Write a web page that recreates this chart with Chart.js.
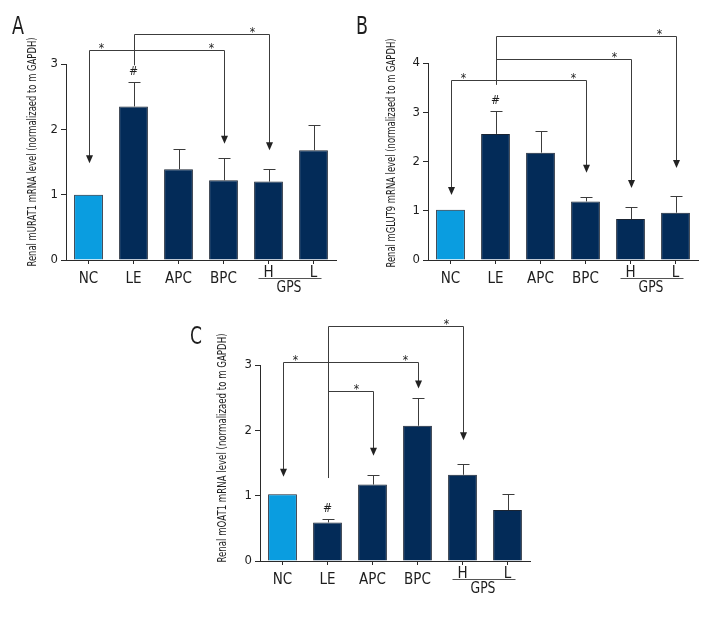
<!DOCTYPE html>
<html><head><meta charset="utf-8">
<script src="https://cdn.jsdelivr.net/npm/chart.js@4"></script>
<style>
html,body{margin:0;padding:0;background:#fff;}
#wrap{position:relative;width:720px;height:624px;background:#fff;overflow:hidden;}
canvas{position:absolute;}
</style></head><body>
<div id="wrap">
<canvas id="cA" width="360" height="300" style="left:0;top:0;width:360px;height:300px"></canvas>
<canvas id="cB" width="380" height="300" style="left:340px;top:0;width:380px;height:300px"></canvas>
<canvas id="cC" width="360" height="324" style="left:180px;top:300px;width:360px;height:324px"></canvas>
</div>
<script>
// ---- data ----
const categories = ['NC', 'LE', 'APC', 'BPC', 'H', 'L'];
const groupLabel = 'GPS';
const groupMembers = [4, 5];
const hashMarks = [1];

const uratMean = [1.00, 2.35, 1.39, 1.22, 1.20, 1.68];
const uratErr  = [0, 0.37, 0.31, 0.34, 0.19, 0.38];
const uratTicks = [0, 1, 2, 3];
const uratSig = [
  {from: 0, to: 3, level: 3.21, fromTip: 1.48, toTip: 1.78},
  {from: 1, to: 4, level: 3.46, fromStart: 2.98, toTip: 1.68}
];

const glutMean = [1.02, 2.56, 2.18, 1.19, 0.83, 0.96];
const glutErr  = [0, 0.47, 0.44, 0.09, 0.25, 0.33];
const glutTicks = [0, 1, 2, 3, 4];
const glutSig = [
  {from: 0, to: 3, level: 3.66, fromTip: 1.32, toTip: 1.77},
  {from: 1, to: 4, level: 4.09, fromStart: 3.56, toTip: 1.46},
  {from: 1, to: 5, level: 4.54, fromStart: 3.56, toTip: 1.87}
];

const oatMean = [1.02, 0.59, 1.17, 2.07, 1.32, 0.78];
const oatErr  = [0, 0.06, 0.14, 0.42, 0.16, 0.25];
const oatTicks = [0, 1, 2, 3];
const oatSig = [
  {from: 0, to: 3, level: 3.04, fromTip: 1.29, toTip: 2.64},
  {from: 1, to: 4, level: 3.60, fromStart: 1.27, toTip: 1.85},
  {from: 1, to: 2, level: 2.60, fromStart: 1.27, toTip: 1.61}
];

// ---- style ----
const FONT = '"Liberation Sans Narrow","DejaVu Sans Condensed","Open Sans",sans-serif';
const LIGHT = '#0a9de0';
const DARK = '#032b58';
const AX = '#2a2a2a';
const LINE = '#3c3c3c';
const TXT = '#1e1e1e';

function makePanel(id, letter, title, means, errs, ticksArr, sig, lay) {
  const yMax = ticksArr[ticksArr.length - 1];
  const anno = {
    id: 'anno' + letter,
    afterDatasetsDraw(chart) {
      const ctx = chart.ctx;
      const xs = chart.scales.x, ys = chart.scales.y;
      const ca = chart.chartArea;
      ctx.save();
      ctx.strokeStyle = LINE;
      ctx.fillStyle = TXT;
      ctx.lineWidth = 1;
      // error bars
      means.forEach((m, i) => {
        if (!errs[i]) return;
        const xc = Math.round(xs.getPixelForValue(i)) + 0.5;
        const y1 = ys.getPixelForValue(m);
        const y2 = Math.round(ys.getPixelForValue(m + errs[i])) + 0.5;
        ctx.beginPath();
        ctx.moveTo(xc, y1); ctx.lineTo(xc, y2);
        ctx.moveTo(xc - 6, y2); ctx.lineTo(xc + 6, y2);
        ctx.stroke();
      });
      // hash marks
      ctx.font = '12px ' + FONT;
      ctx.textAlign = 'center';
      ctx.textBaseline = 'middle';
      hashMarks.forEach(i => {
        const xc = xs.getPixelForValue(i);
        const yt = ys.getPixelForValue(means[i] + errs[i]);
        ctx.fillText('#', xc, yt - 10);
      });
      // significance brackets
      const arrow = (xc, tip) => {
        ctx.beginPath();
        ctx.moveTo(xc - 3.5, tip - 8);
        ctx.lineTo(xc + 3.5, tip - 8);
        ctx.lineTo(xc, tip);
        ctx.closePath();
        ctx.fill();
      };
      const star = (xc, ly) => {
        ctx.font = '12px ' + FONT;
        ctx.textAlign = 'center';
        ctx.textBaseline = 'alphabetic';
        ctx.fillText('*', xc, ly + 1.5);
      };
      sig.forEach(s => {
        const xa = Math.round(xs.getPixelForValue(s.from)) + 0.5;
        const xb = Math.round(xs.getPixelForValue(s.to)) + 0.5;
        const ly = Math.round(ys.getPixelForValue(s.level)) + 0.5;
        const tb = ys.getPixelForValue(s.toTip);
        ctx.beginPath();
        if (s.fromTip !== undefined) {
          const ta = ys.getPixelForValue(s.fromTip);
          ctx.moveTo(xa, ta - 7); ctx.lineTo(xa, ly);
        } else {
          ctx.moveTo(xa, ys.getPixelForValue(s.fromStart)); ctx.lineTo(xa, ly);
        }
        ctx.lineTo(xb, ly); ctx.lineTo(xb, tb - 7);
        ctx.stroke();
        ctx.fillStyle = '#222';
        arrow(xb, tb);
        if (s.fromTip !== undefined) {
          arrow(xa, ys.getPixelForValue(s.fromTip));
          star(xa + 12, ly);
          star(xb - 13, ly);
        } else {
          star(xb - 17, ly);
        }
        ctx.fillStyle = TXT;
      });
      // group bracket (GPS)
      const gx1 = xs.getPixelForValue(groupMembers[0]) - 10;
      const gx2 = xs.getPixelForValue(groupMembers[groupMembers.length - 1]) + 8;
      const gy = Math.round(ca.bottom + 18) + 0.5;
      ctx.strokeStyle = '#555';
      ctx.beginPath(); ctx.moveTo(gx1, gy); ctx.lineTo(gx2, gy); ctx.stroke();
      ctx.font = '15px ' + FONT;
      ctx.textAlign = 'center';
      ctx.textBaseline = 'middle';
      ctx.fillText(groupLabel, (gx1 + gx2) / 2 - 1, ca.bottom + 28.5, 25);
      // y-axis title
      ctx.save();
      ctx.translate(ca.left - lay.titleDx, ca.bottom - lay.titleDy);
      ctx.rotate(-Math.PI / 2);
      ctx.font = '12.5px ' + FONT;
      ctx.textAlign = 'center';
      ctx.textBaseline = 'middle';
      ctx.fillText(title, 0, 0, 229);
      ctx.restore();
      // panel letter
      ctx.font = '25px ' + FONT;
      ctx.textAlign = 'center';
      ctx.textBaseline = 'middle';
      ctx.fillText(letter, lay.lx, lay.ly, 12);
      ctx.restore();
    }
  };
  return new Chart(document.getElementById(id), {
    type: 'bar',
    data: {
      labels: categories,
      datasets: [{
        data: means,
        backgroundColor: categories.map((c, i) => i === 0 ? LIGHT : DARK),
        borderColor: '#1a2433',
        borderWidth: 1,
        barPercentage: 0.64,
        categoryPercentage: 1
      }]
    },
    options: {
      responsive: false,
      animation: false,
      events: [],
      layout: {padding: {left: 0, top: lay.top, right: lay.right, bottom: lay.bottom}},
      plugins: {legend: {display: false}, tooltip: {enabled: false}, title: {display: false}},
      scales: {
        x: {
          grid: {display: true, drawOnChartArea: false, drawTicks: true, tickLength: 4, color: AX, offset: false},
          border: {display: true, color: AX, width: 1},
          ticks: {
            color: TXT, padding: 6, maxRotation: 0, autoSkip: false,
            font: (c) => ({family: FONT, size: 15, lineHeight: groupMembers.includes(c.index) ? 0.4 : 1.15})
          },
          afterFit: (s) => { s.height = 40; }
        },
        y: {
          min: 0, max: yMax,
          grid: {display: true, drawOnChartArea: false, drawTicks: true, tickLength: 5, color: AX},
          border: {display: true, color: AX, width: 1},
          ticks: {color: TXT, padding: 3, stepSize: 1, font: {family: FONT, size: 13}},
          afterBuildTicks: (s) => { s.ticks = ticksArr.map(v => ({value: v})); },
          afterFit: (s) => { s.width = lay.left; }
        }
      }
    },
    plugins: [anno]
  });
}

makePanel('cA', 'A', 'Renal mURAT1 mRNA level (normalizaed to m GAPDH)', uratMean, uratErr, uratTicks, uratSig,
  {left: 66, top: 64, right: 24, bottom: 0, titleDx: 33, titleDy: 108, lx: 18, ly: 27});
makePanel('cB', 'B', 'Renal mGLUT9 mRNA level (normalizaed to m GAPDH)', glutMean, glutErr, glutTicks, glutSig,
  {left: 88, top: 63, right: 22, bottom: 0, titleDx: 36, titleDy: 107, lx: 22, ly: 27});
makePanel('cC', 'C', 'Renal mOAT1 mRNA level (normalizaed to m GAPDH)', oatMean, oatErr, oatTicks, oatSig,
  {left: 80, top: 65, right: 10, bottom: 23, titleDx: 37, titleDy: 113, lx: 16, ly: 37});
</script>
</body></html>
